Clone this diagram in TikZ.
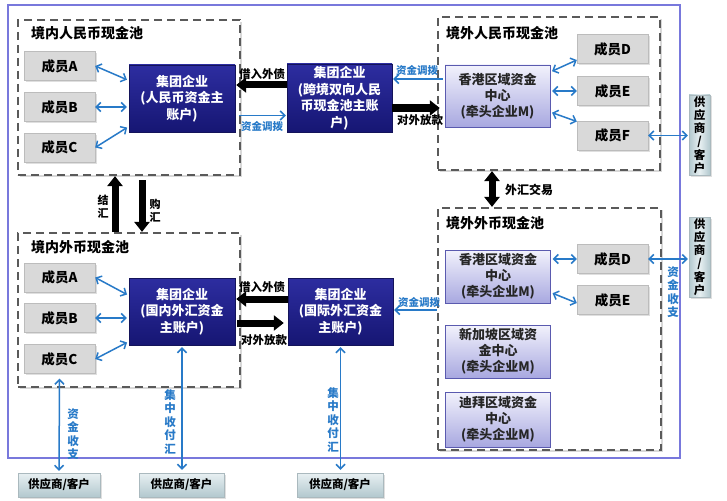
\documentclass[tikz,border=0pt]{standalone}
\usepackage{fontspec}
\setmainfont{Noto Sans CJK SC}
\usetikzlibrary{arrows.meta,shadows,calc}
\definecolor{frameblue}{RGB}{120,120,220}
\definecolor{arrblue}{RGB}{40,122,200}
\definecolor{pooldash}{RGB}{90,90,90}
\definecolor{grptop}{RGB}{45,45,160}
\definecolor{grpbot}{RGB}{22,22,115}
\definecolor{grpdraw}{RGB}{20,20,90}
\definecolor{hktop}{RGB}{242,242,252}
\definecolor{hkbot}{RGB}{168,168,224}
\definecolor{hkdraw}{RGB}{90,90,175}
\definecolor{membfill}{RGB}{217,217,217}
\definecolor{membdraw}{RGB}{188,188,188}
\definecolor{suptop}{RGB}{232,240,242}
\definecolor{supbot}{RGB}{178,200,206}
\definecolor{supdraw}{RGB}{170,185,190}
\begin{document}
\begin{tikzpicture}[x=1pt,y=-1pt,
  pool/.style={draw=pooldash, line width=2.2pt, dash pattern=on 8pt off 5pt, fill=white,
    drop shadow={opacity=0.3, shadow xshift=2pt, shadow yshift=-2pt}, inner sep=0pt},
  pooltitle/.style={anchor=west, font=\fontsize{14}{16}\selectfont\bfseries, inner sep=0pt},
  member/.style={draw=membdraw, fill=membfill, minimum width=71pt, minimum height=29pt,
    font=\fontsize{13.5}{15}\selectfont\bfseries, inner sep=0pt,
    drop shadow={opacity=0.25, shadow xshift=1.5pt, shadow yshift=-1.5pt}},
  grp/.style={draw=grpdraw, top color=grptop, bottom color=grpbot, text=white,
    font=\fontsize{13}{16.5}\selectfont\bfseries, align=center,
    minimum width=106pt, minimum height=67pt, inner sep=1pt},
  hk/.style={draw=hkdraw, top color=hktop, bottom color=hkbot, text=black!85,
    font=\fontsize{13}{16}\selectfont\bfseries, align=center,
    minimum width=105pt, inner sep=1pt},
  supv/.style={draw=supdraw, left color=supbot, right color=supbot, middle color=suptop,
    minimum width=21pt, minimum height=80pt, align=center, inner sep=0pt,
    font=\fontsize{11.5}{13.3}\selectfont\bfseries,
    drop shadow={opacity=0.25, shadow xshift=1.5pt, shadow yshift=-1.5pt}},
  suph/.style={draw=supdraw, top color=suptop, bottom color=supbot,
    minimum height=24pt, inner sep=0pt, font=\fontsize{11.5}{13}\selectfont\bfseries,
    drop shadow={opacity=0.25, shadow xshift=1.5pt, shadow yshift=-1.5pt}},
  barrow/.style={draw=arrblue, line width=1.5pt,
    {Straight Barb[length=4.5pt,width=9pt]}-{Straight Barb[length=4.5pt,width=9pt]}},
  barrowr/.style={draw=arrblue, line width=1.5pt, -{Straight Barb[length=4.5pt,width=9pt]}},
  bigarrow/.style={draw=black, line width=7pt, -{Triangle[length=10pt,width=15pt]}},
  bigarrowb/.style={draw=black, line width=7pt,
    {Triangle[length=10pt,width=15pt]}-{Triangle[length=10pt,width=15pt]}},
  lbl/.style={font=\fontsize{11.5}{13}\selectfont\bfseries, inner sep=0pt},
  blbl/.style={font=\fontsize{10.5}{12}\selectfont\bfseries, text=arrblue, inner sep=0pt},
  vlbl/.style={font=\fontsize{11.5}{13.5}\selectfont\bfseries, align=center, inner sep=0pt},
  vblbl/.style={vlbl, text=arrblue}
]
\useasboundingbox (0,0) rectangle (727,500);
\fill[white] (0,0) rectangle (727,500);

% outer frame
\draw[frameblue, line width=1.6pt] (8,5) rectangle (680,458);

% pools
\node[pool, minimum width=222pt, minimum height=155pt] (TL) at (129,97.5) {};
\node[pool, minimum width=222pt, minimum height=154pt] (BL) at (129,310) {};
\node[pool, minimum width=222pt, minimum height=153pt] (TR) at (549,93.5) {};
\node[pool, minimum width=223pt, minimum height=242pt] (BR) at (549.5,329) {};

\node[pooltitle] (tTL) at (31,33) {境内人民币现金池};
\node[pooltitle] (tBL) at (31,247) {境内外币现金池};
\node[pooltitle] (tTR) at (446,33) {境外人民币现金池};
\node[pooltitle] (tBR) at (446,223) {境外外币现金池};

% members
\node[member] (A1) at (59.5,66) {成员A};
\node[member] (B1) at (59.5,107) {成员B};
\node[member] (C1) at (59.5,147.5) {成员C};
\node[member] (A2) at (59.5,277.5) {成员A};
\node[member] (B2) at (59.5,318) {成员B};
\node[member] (C2) at (59.5,359) {成员C};
\node[member] (D1) at (612.5,49) {成员D};
\node[member] (E1) at (612.5,91) {成员E};
\node[member] (F1) at (612.5,135.5) {成员F};
\node[member] (D2) at (612.5,259) {成员D};
\node[member] (E2) at (612.5,300) {成员E};

% group accounts
\node[grp] (G1) at (182,98.5) {集团企业\\(人民币资金主\\账户)};
\node[grp] (G2) at (182,311.5) {集团企业\\(国内外汇资金\\主账户)};
\node[grp, minimum width=105pt, minimum height=68pt] (M1) at (339.5,98) {集团企业\\(跨境双向人民\\币现金池主账\\户)};
\node[grp, minimum width=105pt] (M2) at (340.5,311.5) {集团企业\\(国际外汇资金\\主账户)};

% regional centres
\node[hk, minimum height=62pt] (HK1) at (497.5,96) {香港区域资金\\中心\\(牵头企业M)};
\node[hk, minimum height=53pt] (HK2) at (498,276.5) {香港区域资金\\中心\\(牵头企业M)};
\node[hk, minimum height=53pt] (SG) at (498,351.5) {新加坡区域资\\金中心\\(牵头企业M)};
\node[hk, minimum height=55pt] (DB) at (498,419.5) {迪拜区域资金\\中心\\(牵头企业M)};

% suppliers
\node[supv] (S1) at (699.5,135) {供\\应\\商\\/\\客\\户};
\node[supv] (S2) at (699.5,257) {供\\应\\商\\/\\客\\户};
\node[suph, minimum width=82pt] (S3) at (59,485) {供应商/客户};
\node[suph, minimum width=85pt] (S4) at (181.5,485) {供应商/客户};
\node[suph, minimum width=86pt] (S5) at (340,485) {供应商/客户};

% member <-> group arrows
\draw[barrow, shorten >=2pt] (A1.east) -- ([yshift=18pt]G1.west);
\draw[barrow, shorten >=2pt] (B1.east) -- (B1.east -| G1.west);
\draw[barrow, shorten >=2pt] (C1.east) -- ([yshift=-28pt]G1.west);
\draw[barrow, shorten >=2pt] (A2.east) -- ([yshift=16pt]G2.west);
\draw[barrow, shorten >=2pt] (B2.east) -- (B2.east -| G2.west);
\draw[barrow, shorten >=2pt] (C2.east) -- ([yshift=-30pt]G2.west);

\draw[barrow, shorten <=2pt] ([yshift=24pt]HK1.east) -- ([yshift=-11pt]D1.west);
\draw[barrow, shorten <=2pt] (E1.west -| HK1.east) -- (E1.west);
\draw[barrow, shorten <=2pt] ([yshift=-16pt]HK1.east) -- ([yshift=14pt]F1.west);
\draw[barrow, shorten <=2pt] (D2.west -| HK2.east) -- (D2.west);
\draw[barrow, shorten <=2pt] ([yshift=-16pt]HK2.east) -- ([yshift=-3pt]E2.west);

\draw[barrow, shorten >=1pt] (F1.east) -- (F1.east -| S1.west);
\draw[barrow, shorten >=1pt] (D2.east) -- (D2.east -| S2.west);

% main account arrows (top)
\draw[bigarrow, shorten >=1pt] ([yshift=13pt]M1.west) -- ([yshift=13pt]M1.west -| G1.east);
\draw[barrowr, shorten <=4pt, shorten >=1pt] ([yshift=-17pt]G1.east) -- ([yshift=-17pt]G1.east -| M1.west);
\draw[barrowr, shorten <=2pt, shorten >=1pt] ([yshift=17pt]HK1.west) -- ([yshift=17pt]HK1.west -| M1.east);
\draw[bigarrow, shorten >=5pt] ([yshift=-10pt]M1.east) -- ([yshift=-10pt]M1.east -| HK1.west);

% main account arrows (bottom)
\draw[bigarrow, shorten >=1pt] ([yshift=12.5pt]M2.west) -- ([yshift=12.5pt]M2.west -| G2.east);
\draw[bigarrow, shorten <=2pt, shorten >=4pt] ([yshift=-11.5pt]G2.east) -- ([yshift=-11.5pt]G2.east -| M2.west);
\draw[barrowr, shorten >=1pt] ([yshift=19pt]BR.west) -- ([yshift=19pt]BR.west -| M2.east);

% vertical exchange arrows
\draw[bigarrow] ([xshift=-14pt]BL.north) -- ([xshift=-14pt]TL.south);
\draw[bigarrow, shorten <=4pt] ([xshift=13pt]TL.south) -- ([xshift=13pt]BL.north);
\draw[bigarrowb] ([xshift=-57pt]TR.south) -- ([xshift=-57pt]TR.south |- BR.north);

% bottom arrows
\draw[barrow, shorten <=2pt] (S3.north) -- ([yshift=-5pt]C2.south);
\draw[barrow, shorten <=2pt, shorten >=3pt] (G2.south) -- (G2.south |- S4.north);
\draw[barrow, shorten <=2pt, shorten >=3pt] (M2.south) -- (M2.south |- S5.north);

% labels
\node[lbl] (l1) at (262,74) {借入外债};
\node[blbl] (l2) at (262,126) {资金调拨};
\node[blbl] (l3) at (417,70) {资金调拨};
\node[lbl] (l4) at (420,120) {对外放款};
\node[lbl] (l5) at (262,287) {借入外债};
\node[lbl] (l6) at (264,340) {对外放款};
\node[blbl] (l7) at (419,302) {资金调拨};
\node[vlbl, font=\fontsize{11}{13}\selectfont\bfseries] (l8) at (103,207) {结\\汇};
\node[vlbl, font=\fontsize{11}{13}\selectfont\bfseries] (l9) at (155,211) {购\\汇};
\node[lbl, anchor=west, font=\fontsize{12}{14}\selectfont\bfseries] (l10) at (505,190) {外汇交易};
\node[vblbl] (l11) at (73,434) {资\\金\\收\\支};
\node[vblbl] (l12) at (170,422) {集\\中\\收\\付\\汇};
\node[vblbl] (l13) at (333,420) {集\\中\\收\\付\\汇};
\node[vblbl] (l14) at (673,292) {资\\金\\收\\支};
\end{tikzpicture}
\end{document}
